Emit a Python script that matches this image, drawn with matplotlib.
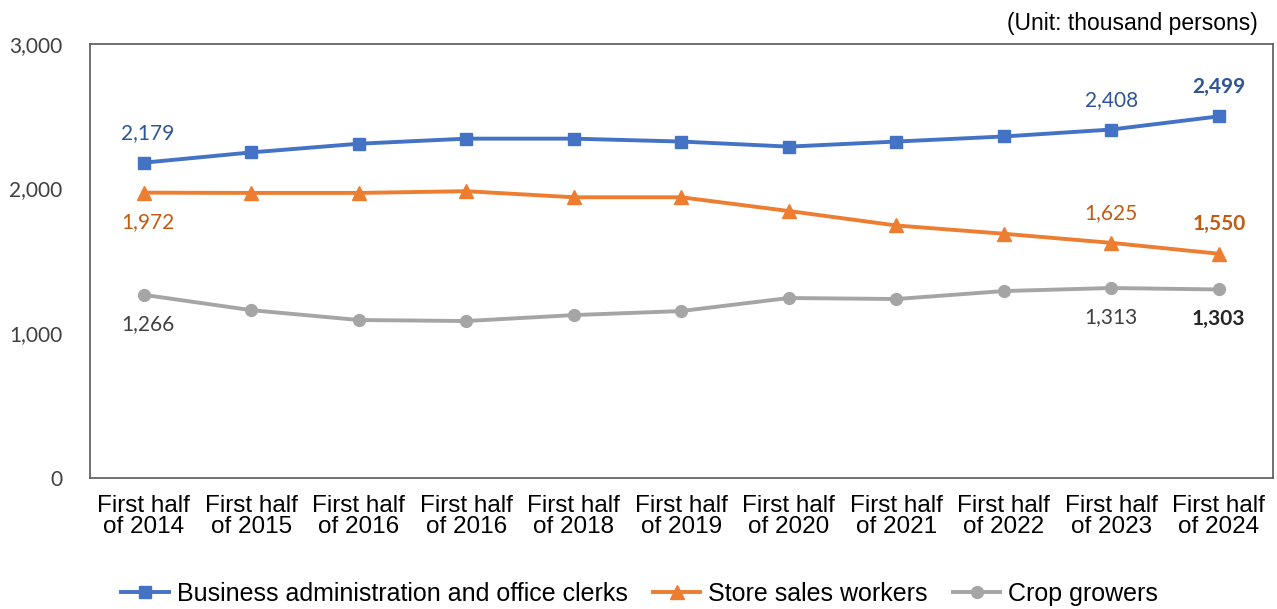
import matplotlib.pyplot as plt

categories = ['First half\nof 2014', 'First half\nof 2015', 'First half\nof 2016', 'First half\nof 2016',
              'First half\nof 2018', 'First half\nof 2019', 'First half\nof 2020', 'First half\nof 2021',
              'First half\nof 2022', 'First half\nof 2023', 'First half\nof 2024']

clerks = [2179, 2250, 2310, 2345, 2345, 2325, 2290, 2325, 2360, 2408, 2499]
store_sales = [1972, 1970, 1970, 1982, 1940, 1940, 1845, 1745, 1688, 1625, 1550]
crop_growers = [1266, 1160, 1092, 1085, 1126, 1154, 1244, 1237, 1292, 1313, 1303]

series_names = ['Business administration and office clerks', 'Store sales workers', 'Crop growers']

yticks = [0, 1000, 2000, 3000]

fig = plt.figure(figsize=(12.77, 6.09), dpi=100)
ax = fig.add_axes([0.0705, 0.215, 0.926, 0.713])

x = list(range(len(categories)))
ax.plot(x, clerks, color='#4472C4', lw=2.8, marker='s', ms=9, label=series_names[0])
ax.plot(x, store_sales, color='#ED7D31', lw=2.8, marker='^', ms=10, label=series_names[1])
ax.plot(x, crop_growers, color='#A5A5A5', lw=2.8, marker='o', ms=8.5, label=series_names[2])

ax.set_xlim(-0.5, len(categories) - 0.5)
ax.set_ylim(0, 3000)
ax.set_yticks(yticks)
ax.set_yticklabels(['{:,}'.format(v) for v in yticks], fontfamily='Lato', fontsize=15, color='#404040')
ax.set_xticks(x)
ax.set_xticklabels(categories, fontfamily='Liberation Sans', fontsize=17.5, linespacing=0.95)
ax.tick_params(axis='x', length=0, pad=12)
ax.tick_params(axis='y', length=0, pad=20)
for s in ax.spines.values():
    s.set_color('#595959')
    s.set_linewidth(1.2)

# data labels (first, second-to-last, last)
lab_font = dict(fontfamily='Lato', fontsize=15, ha='center')
ax.annotate('{:,}'.format(clerks[0]), (0, clerks[0]), xytext=(3, 14), textcoords='offset points',
            color='#2F5597', va='bottom', **lab_font)
ax.annotate('{:,}'.format(clerks[9]), (9, clerks[9]), xytext=(0, 14), textcoords='offset points',
            color='#2F5597', va='bottom', **lab_font)
ax.annotate('{:,}'.format(clerks[10]), (10, clerks[10]), xytext=(0, 14), textcoords='offset points',
            color='#2F5597', va='bottom', fontweight='bold', **lab_font)

ax.annotate('{:,}'.format(store_sales[0]), (0, store_sales[0]), xytext=(3, -14), textcoords='offset points',
            color='#C55A11', va='top', **lab_font)
ax.annotate('{:,}'.format(store_sales[9]), (9, store_sales[9]), xytext=(0, 14), textcoords='offset points',
            color='#C55A11', va='bottom', **lab_font)
ax.annotate('{:,}'.format(store_sales[10]), (10, store_sales[10]), xytext=(0, 14), textcoords='offset points',
            color='#C55A11', va='bottom', fontweight='bold', **lab_font)

ax.annotate('{:,}'.format(crop_growers[0]), (0, crop_growers[0]), xytext=(3, -14), textcoords='offset points',
            color='#404040', va='top', **lab_font)
ax.annotate('{:,}'.format(crop_growers[9]), (9, crop_growers[9]), xytext=(0, -14), textcoords='offset points',
            color='#404040', va='top', **lab_font)
ax.annotate('{:,}'.format(crop_growers[10]), (10, crop_growers[10]), xytext=(0, -14), textcoords='offset points',
            color='#262626', va='top', fontweight='bold', **lab_font)

fig.text(0.985, 0.962, '(Unit: thousand persons)', ha='right', va='center',
         fontfamily='Liberation Sans', fontsize=16.5)

fig.legend(loc='center', bbox_to_anchor=(0.501, 0.025), ncol=3, frameon=False,
           prop={'family': 'Liberation Sans', 'size': 18}, handlelength=1.9,
           columnspacing=1.0, handletextpad=0.32)

plt.savefig('out.png', dpi=100)
